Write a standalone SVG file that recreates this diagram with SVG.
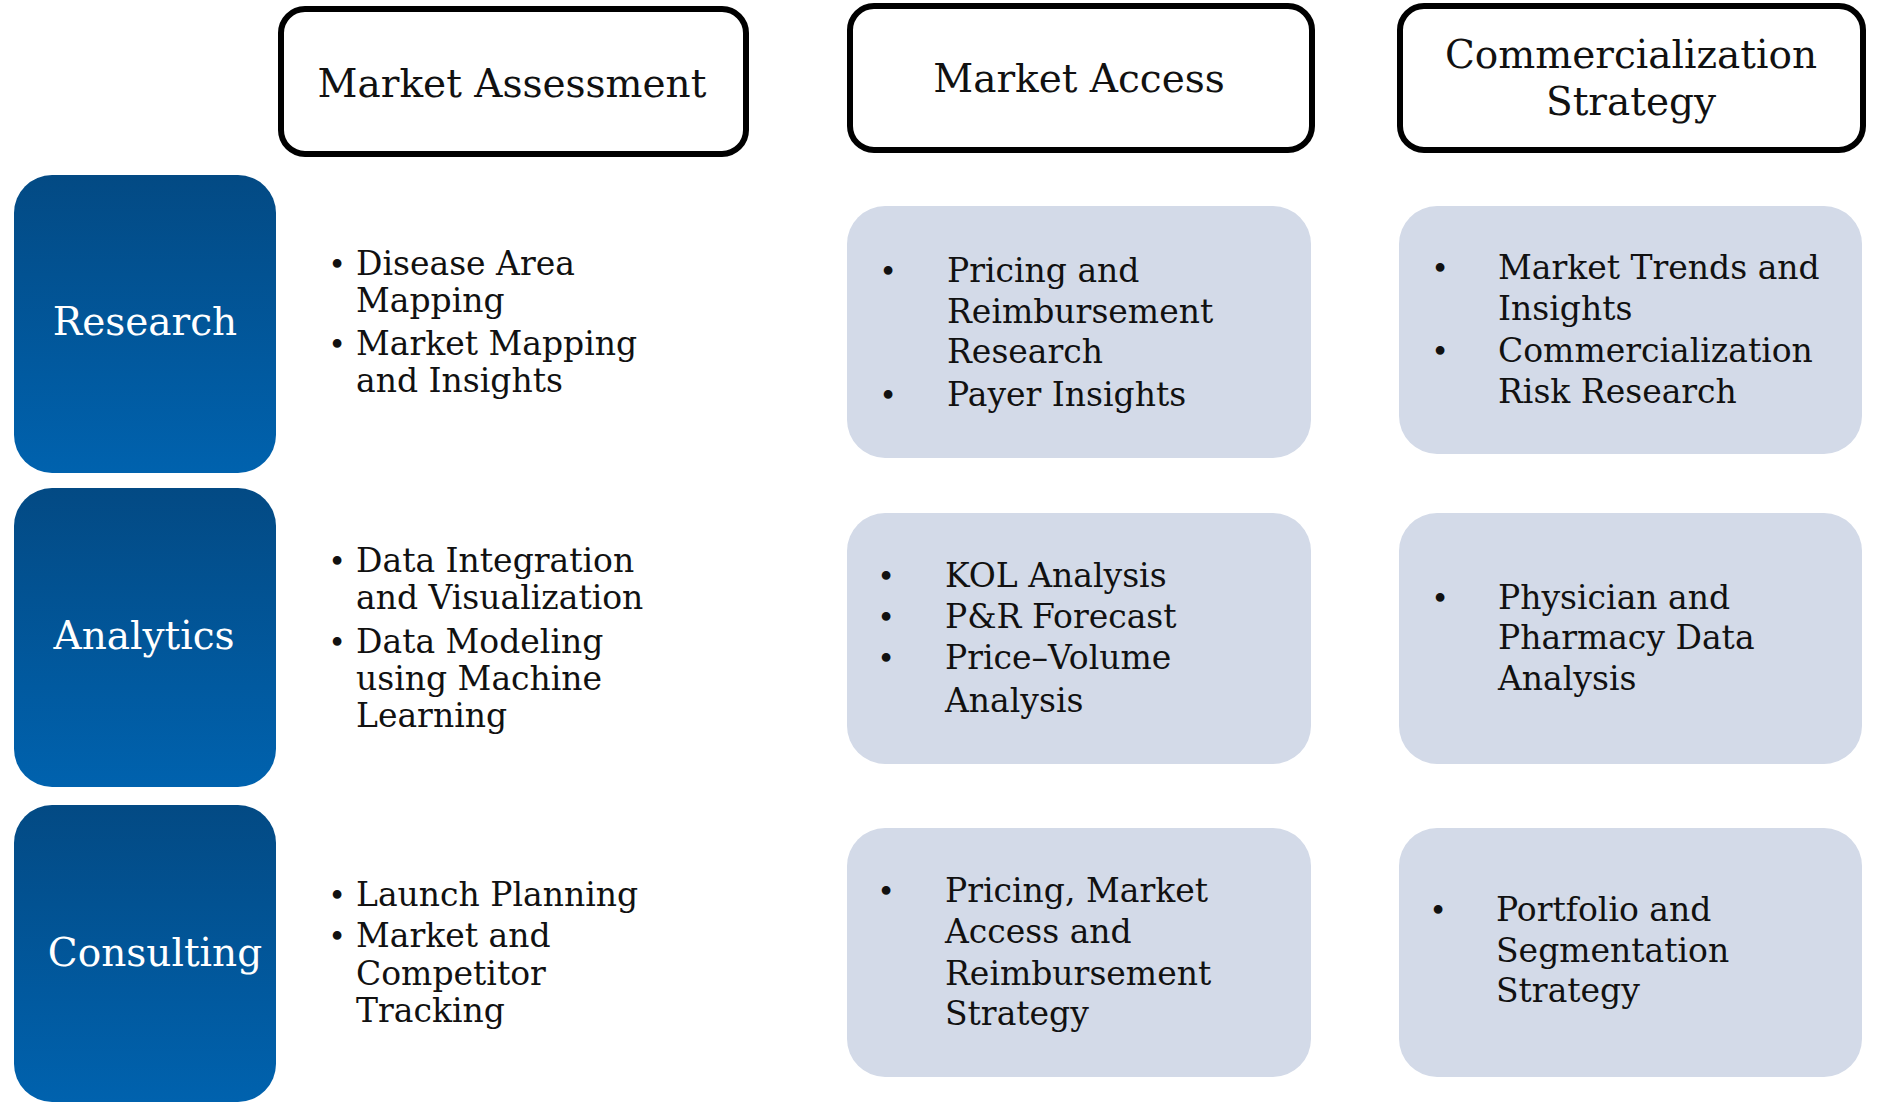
<svg xmlns="http://www.w3.org/2000/svg" width="1881" height="1116" viewBox="0 0 1881 1116">
<style>
text{font-family:"DejaVu Serif","Liberation Serif",serif;fill:#111}
.hdr rect{fill:#fff;stroke:#000;stroke-width:6}
.hdr text{font-size:39px;text-anchor:middle}
.row rect{fill:url(#blue)}
.row text{font-size:39px;fill:#fff;text-anchor:middle}
.cell rect{fill:#d3dae8}
.b{font-size:33px}
.d{font-size:30px;text-anchor:middle}
</style>
<defs>
<linearGradient id="blue" x1="0" y1="0" x2="0" y2="1">
<stop offset="0" stop-color="#034a84"/>
<stop offset="1" stop-color="#0062ae"/>
</linearGradient>
</defs>
<g id="connectors"></g>
<g id="hdr-market-assessment" class="hdr"><rect x="281" y="9" width="465" height="145" rx="24"/><text x="512" y="97">Market Assessment</text></g>
<g id="hdr-market-access" class="hdr"><rect x="850" y="6" width="462" height="144" rx="24"/><text x="1079" y="92">Market Access</text></g>
<g id="hdr-commercialization" class="hdr"><rect x="1400" y="6" width="463" height="144" rx="24"/><text x="1631" y="68">Commercialization</text><text x="1631" y="115">Strategy</text></g>

<g id="row-research" class="row"><rect x="14" y="175" width="262" height="298" rx="38"/><text x="145" y="335">Research</text></g>
<g id="row-analytics" class="row"><rect x="14" y="488" width="262" height="299" rx="38"/><text x="144" y="649">Analytics</text></g>
<g id="row-consulting" class="row"><rect x="14" y="805" width="262" height="297" rx="38"/><text x="155" y="966">Consulting</text></g>

<g id="cell-research-assessment">
<text class="d" x="337" y="275">•</text><text class="b" x="356" y="275">Disease Area</text><text class="b" x="356" y="312">Mapping</text>
<text class="d" x="337" y="355">•</text><text class="b" x="356" y="355">Market Mapping</text><text class="b" x="356" y="392">and Insights</text>
</g>
<g id="cell-analytics-assessment">
<text class="d" x="337" y="572">•</text><text class="b" x="356" y="572">Data Integration</text><text class="b" x="356" y="609">and Visualization</text>
<text class="d" x="337" y="653">•</text><text class="b" x="356" y="653">Data Modeling</text><text class="b" x="356" y="690">using Machine</text><text class="b" x="356" y="727">Learning</text>
</g>
<g id="cell-consulting-assessment">
<text class="d" x="337" y="906">•</text><text class="b" x="356" y="906">Launch Planning</text>
<text class="d" x="337" y="947">•</text><text class="b" x="356" y="947">Market and</text><text class="b" x="356" y="985">Competitor</text><text class="b" x="356" y="1022">Tracking</text>
</g>

<g id="cell-research-access" class="cell"><rect x="847" y="206" width="464" height="252" rx="38"/>
<text class="d" x="888" y="282">•</text><text class="b" x="947" y="282">Pricing and</text><text class="b" x="947" y="323">Reimbursement</text><text class="b" x="947" y="363">Research</text>
<text class="d" x="888" y="406">•</text><text class="b" x="947" y="406">Payer Insights</text>
</g>
<g id="cell-research-commercialization" class="cell"><rect x="1399" y="206" width="463" height="248" rx="38"/>
<text class="d" x="1440" y="279">•</text><text class="b" x="1498" y="279">Market Trends and</text><text class="b" x="1498" y="320">Insights</text>
<text class="d" x="1440" y="362">•</text><text class="b" x="1498" y="362">Commercialization</text><text class="b" x="1498" y="403">Risk Research</text>
</g>
<g id="cell-analytics-access" class="cell"><rect x="847" y="513" width="464" height="251" rx="38"/>
<text class="d" x="886" y="587">•</text><text class="b" x="945" y="587">KOL Analysis</text>
<text class="d" x="886" y="628">•</text><text class="b" x="945" y="628">P&amp;R Forecast</text>
<text class="d" x="886" y="669">•</text><text class="b" x="945" y="669">Price–Volume</text><text class="b" x="945" y="712">Analysis</text>
</g>
<g id="cell-analytics-commercialization" class="cell"><rect x="1399" y="513" width="463" height="251" rx="38"/>
<text class="d" x="1440" y="609">•</text><text class="b" x="1498" y="609">Physician and</text><text class="b" x="1498" y="649">Pharmacy Data</text><text class="b" x="1498" y="690">Analysis</text>
</g>
<g id="cell-consulting-access" class="cell"><rect x="847" y="828" width="464" height="249" rx="38"/>
<text class="d" x="886" y="902">•</text><text class="b" x="945" y="902">Pricing, Market</text><text class="b" x="945" y="943">Access and</text><text class="b" x="945" y="985">Reimbursement</text><text class="b" x="945" y="1025">Strategy</text>
</g>
<g id="cell-consulting-commercialization" class="cell"><rect x="1399" y="828" width="463" height="249" rx="38"/>
<text class="d" x="1438" y="921">•</text><text class="b" x="1496" y="921">Portfolio and</text><text class="b" x="1496" y="962">Segmentation</text><text class="b" x="1496" y="1002">Strategy</text>
</g>
</svg>
